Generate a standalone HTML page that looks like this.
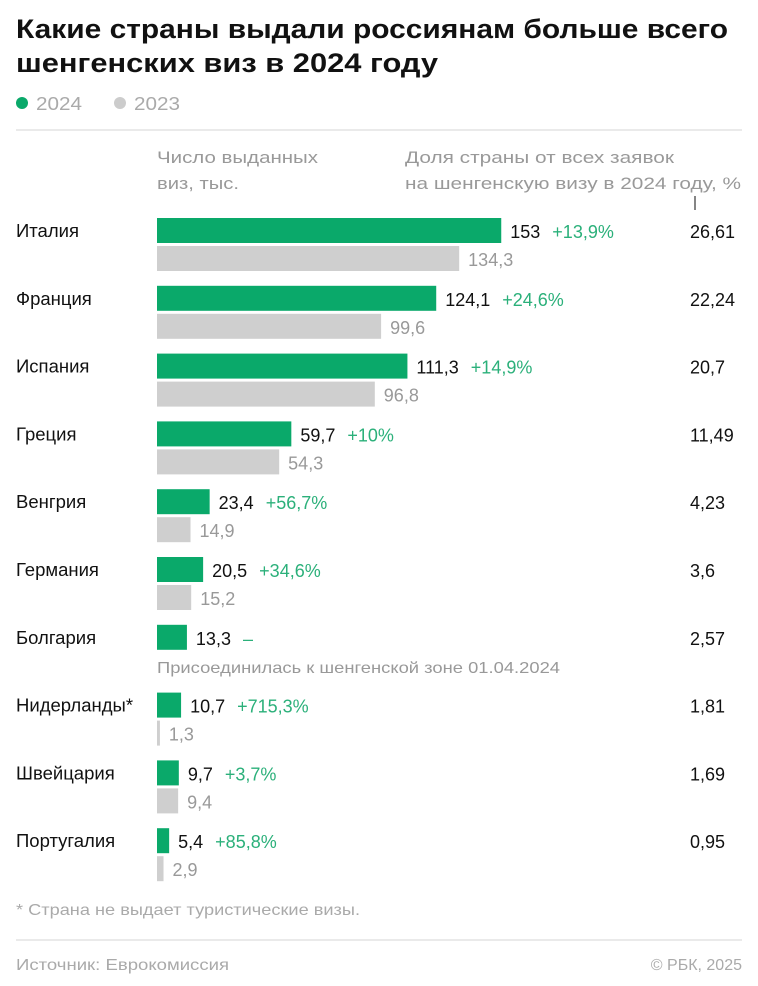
<!DOCTYPE html>
<html><head><meta charset="utf-8"><style>
html,body{margin:0;padding:0;background:#fff;}
svg{display:block;font-family:"Liberation Sans","DejaVu Sans",sans-serif;}
</style></head><body>
<svg id="c" width="758" height="986" viewBox="0 0 758 986">
<text x="16" y="38" font-size="27" font-weight="bold" fill="#111" textLength="712" lengthAdjust="spacingAndGlyphs">Какие страны выдали россиянам больше всего</text>
<text x="16" y="72" font-size="27" font-weight="bold" fill="#111" textLength="422" lengthAdjust="spacingAndGlyphs">шенгенских виз в 2024 году</text>
<g>
<circle cx="22" cy="103" r="6" fill="#0aa96a"/>
<text x="36" y="110" font-size="18" fill="#aaa" textLength="46" lengthAdjust="spacingAndGlyphs">2024</text>
<circle cx="120" cy="103" r="6" fill="#ccc"/>
<text x="134" y="110" font-size="18" fill="#aaa" textLength="46" lengthAdjust="spacingAndGlyphs">2023</text>
</g>
<line x1="16" y1="130" x2="742" y2="130" stroke="#e4e4e4" stroke-width="1.5"/>
<text x="157" y="163" font-size="17" fill="#999" textLength="161" lengthAdjust="spacingAndGlyphs">Число выданных</text>
<text x="157" y="189" font-size="17" fill="#999" textLength="82" lengthAdjust="spacingAndGlyphs">виз, тыс.</text>
<text x="405" y="163" font-size="17" fill="#999" textLength="269" lengthAdjust="spacingAndGlyphs">Доля страны от всех заявок</text>
<text x="405" y="189" font-size="17" fill="#999" textLength="336" lengthAdjust="spacingAndGlyphs">на шенгенскую визу в 2024 году, %</text>
<line x1="695" y1="196" x2="695" y2="210" stroke="#333" stroke-width="1.2"/>
<g id="rows"></g>
<text x="16" y="915" font-size="16" fill="#aaa" textLength="344" lengthAdjust="spacingAndGlyphs">* Страна не выдает туристические визы.</text>
<line x1="16" y1="940" x2="742" y2="940" stroke="#e4e4e4" stroke-width="1.5"/>
<text x="16" y="970" font-size="16" fill="#aaa" textLength="213" lengthAdjust="spacingAndGlyphs">Источник: Еврокомиссия</text>
<text x="742" y="970" font-size="16" fill="#aaa" text-anchor="end">© РБК, 2025</text>
</svg>
<script>
const countries = ["Италия","Франция","Испания","Греция","Венгрия","Германия","Болгария","Нидерланды*","Швейцария","Португалия"];
const values2024 = [153,124.1,111.3,59.7,23.4,20.5,13.3,10.7,9.7,5.4];
const values2023 = [134.3,99.6,96.8,54.3,14.9,15.2,null,1.3,9.4,2.9];
const labels2024 = ["153","124,1","111,3","59,7","23,4","20,5","13,3","10,7","9,7","5,4"];
const labels2023 = ["134,3","99,6","96,8","54,3","14,9","15,2","","1,3","9,4","2,9"];
const changes = ["+13,9%","+24,6%","+14,9%","+10%","+56,7%","+34,6%","–","+715,3%","+3,7%","+85,8%"];
const shares = ["26,61","22,24","20,7","11,49","4,23","3,6","2,57","1,81","1,69","0,95"];

const NS="http://www.w3.org/2000/svg";
const g=document.getElementById('rows');
const x0=157, k=2.25;
function xs(v){return x0+v*k;}
function rowY(i){return 218+i*67.8;}
function mk(tag,attrs,txt){const e=document.createElementNS(NS,tag);for(const a in attrs)e.setAttribute(a,attrs[a]);if(txt!==undefined)e.textContent=txt;g.appendChild(e);return e;}
countries.forEach((c,i)=>{
  const y=rowY(i);
  let e=mk('text',{x:16,y:y+19,'font-size':18.5,fill:'#111'},c);
  
  
  const w1=Math.max(xs(values2024[i])-x0,2);
  e=mk('rect',{x:x0,y:y,width:w1,height:25,fill:'#0aa96a'});
  
  
  const vx=xs(values2024[i])+9;
  e=mk('text',{x:vx,y:y+20,'font-size':18,fill:'#111'},labels2024[i]);
  
  
  const cx=vx+e.getComputedTextLength()+12;
  e=mk('text',{x:cx,y:y+20,'font-size':18,fill:'#2bb07a'},changes[i]);
  
  
  e=mk('text',{x:690,y:y+20,'font-size':18,fill:'#111'},shares[i]);
  
  
  if(values2023[i]===null){
    e=mk('text',{x:157,y:y+48,'font-size':16,fill:'#999',textLength:403,lengthAdjust:'spacingAndGlyphs'},'Присоединилась к шенгенской зоне 01.04.2024');
    
    
  } else {
    const w2=Math.max(xs(values2023[i])-x0,2);
    e=mk('rect',{x:x0,y:y+28,width:w2,height:25,fill:'#cfcfcf'});
    
    
    e=mk('text',{x:xs(values2023[i])+9,y:y+48,'font-size':18,fill:'#999'},labels2023[i]);
    
    
  }
});
</script>
</body></html>
